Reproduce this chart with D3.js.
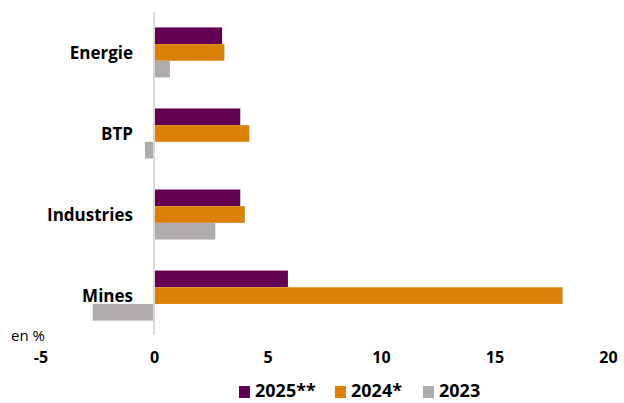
<!DOCTYPE html>
<html><head><meta charset="utf-8">
<script src="https://cdn.jsdelivr.net/npm/d3@7"></script>
<style>body{margin:0;background:#fff;}svg{display:block;font-family:"Open Sans",sans-serif;}</style>
</head><body>
<svg id="c" width="624" height="403"></svg>
<script>
const categories = ["Energie", "BTP", "Industries", "Mines"];
const seriesNames = ["2025**", "2024*", "2023"];
const s2025 = [3.0, 3.8, 3.8, 5.9];
const s2024 = [3.1, 4.2, 4.0, 18.0];
const s2023 = [0.7, -0.4, 2.7, -2.7];
const tickValues = [-5, 0, 5, 10, 15, 20];
const colors = ["#620052", "#dc8107", "#b0acab"];

const series = [s2025, s2024, s2023];
const svg = d3.select("#c");
const x = d3.scaleLinear().domain([-5, 20]).range([40.5, 608]);
const y = d3.scaleBand().domain(categories).range([12, 336]).paddingInner(0.383).paddingOuter(0.19);
const yi = d3.scaleBand().domain(seriesNames).range([0, y.bandwidth()]);

const g = svg.append("g");
series.forEach((vals, si) => {
  g.selectAll(null).data(categories).enter().append("rect")
    .attr("x", (d, i) => x(Math.min(0, vals[i])))
    .attr("width", (d, i) => Math.abs(x(vals[i]) - x(0)))
    .attr("y", d => y(d) + yi(seriesNames[si]))
    .attr("height", yi.bandwidth())
    .attr("fill", colors[si]);
});

// zero line
svg.append("line").attr("x1", x(0)).attr("x2", x(0)).attr("y1", 12).attr("y2", 335)
  .attr("stroke", "#d9d9d9").attr("stroke-width", 2);

// category labels
svg.selectAll(null).data(categories).enter().append("text")
  .attr("x", 133).attr("y", d => y(d) + y.bandwidth() / 2)
  .attr("text-anchor", "end").attr("dominant-baseline", "central")
  .attr("font-size", 17).attr("font-weight", "bold").attr("fill", "#000")
  .text(d => d);

// x axis
const xAxis = d3.axisBottom(x).tickValues(tickValues).tickSize(0).tickFormat(d => String(d));
const ax = svg.append("g").attr("transform", "translate(0,349)").call(xAxis);
ax.select(".domain").remove();
ax.selectAll("text").attr("font-size", 16).attr("font-weight", "bold")
  .attr("font-family", "'Open Sans', sans-serif").attr("fill", "#000");

svg.append("text").attr("x", 11).attr("y", 335).attr("dominant-baseline", "central")
  .attr("font-size", 15).attr("fill", "#000").text("en %");

// legend
const legX = [239, 335, 423];
const lg = svg.selectAll(".lg").data(seriesNames).enter().append("g")
  .attr("transform", (d, i) => `translate(${legX[i]},0)`);
lg.append("rect").attr("x", 0).attr("y", 386).attr("width", 11).attr("height", 12)
  .attr("fill", (d, i) => colors[i]);
lg.append("text").attr("x", 16).attr("y", 397)
  .attr("font-size", 18).attr("font-weight", "bold").attr("fill", "#000").text(d => d);
</script>
</body></html>
